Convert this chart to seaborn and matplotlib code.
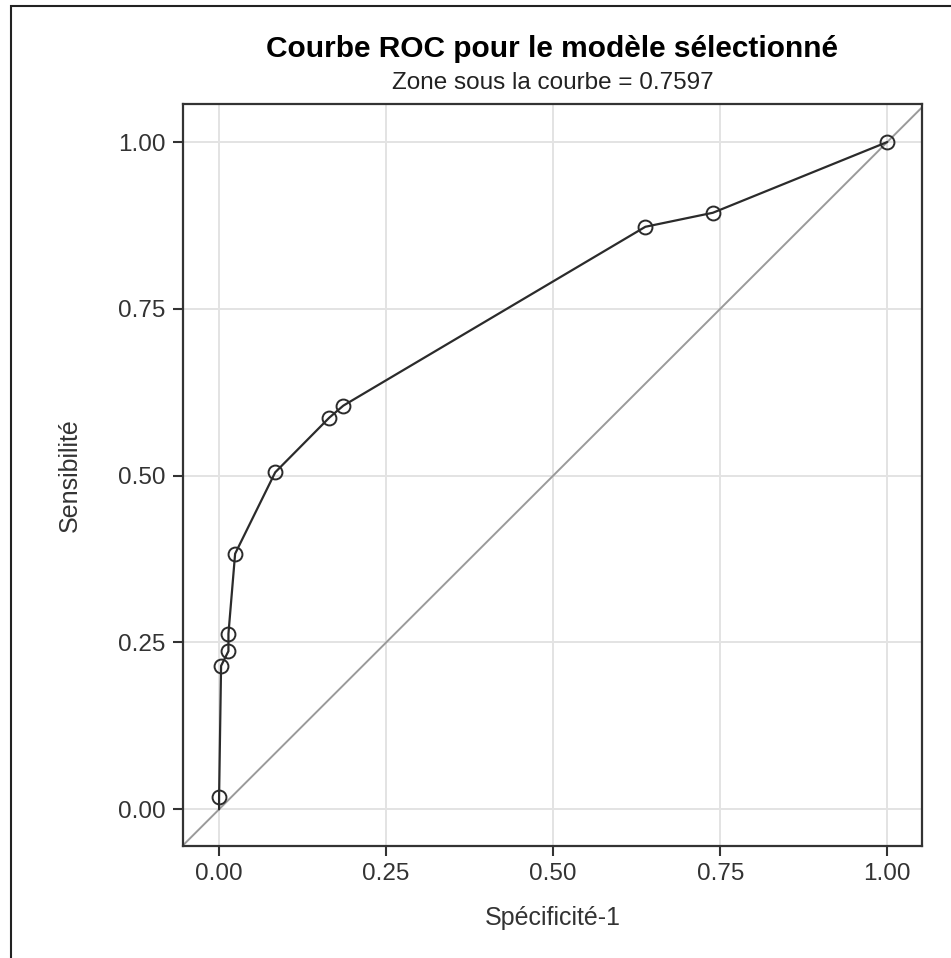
import pandas as pd
import matplotlib.pyplot as plt
import seaborn as sns
from matplotlib.patches import Rectangle

# Points de la courbe ROC
specificite_1 = [0.0, 0.0, 0.003, 0.014, 0.014, 0.024, 0.084, 0.165, 0.186, 0.638, 0.739, 1.0]
sensibilite = [0.0, 0.018, 0.215, 0.237, 0.263, 0.383, 0.505, 0.587, 0.605, 0.873, 0.894, 1.0]
graduations = [0.0, 0.25, 0.50, 0.75, 1.00]
etiquettes = ["0.00", "0.25", "0.50", "0.75", "1.00"]
auc = 0.7597

sns.set_theme(style="whitegrid")
plt.rcParams['font.family'] = ['Liberation Sans', 'DejaVu Sans']

df = pd.DataFrame({'x': specificite_1, 'y': sensibilite})

fig = plt.figure(figsize=(9.51, 9.58), dpi=100)
ax = fig.add_axes([183 / 951, 1 - 846 / 958, (922 - 183) / 951, (846 - 104) / 958])

# cadre autour de la figure (coupé à droite et en bas)
fig.patches.append(Rectangle((11 / 951, -0.1), 1.2, 1 - 6 / 958 + 0.1, transform=fig.transFigure,
                             fill=False, edgecolor='#222222', linewidth=1.5, zorder=0))

ax.axline((0, 0), slope=1, color='#9a9a9a', linewidth=1.4, zorder=1)
# pas de marqueur sur le point de départ (0, 0)
sns.lineplot(data=df, x='x', y='y', ax=ax, color='#2b2b2b', linewidth=1.6, sort=False,
             estimator=None, marker='o', markersize=10, markerfacecolor='none',
             markeredgecolor='#2b2b2b', markeredgewidth=1.4, zorder=3,
             markevery=list(range(1, len(df))))

ax.set_xlim(-0.054, 1.052)
ax.set_ylim(-0.055, 1.057)
ax.set_xticks(graduations)
ax.set_xticklabels(etiquettes)
ax.set_yticks(graduations)
ax.set_yticklabels(etiquettes)
ax.grid(True, color='#e3e3e3', linewidth=1.4)
for s in ax.spines.values():
    s.set_color('#333333')
    s.set_linewidth(1.6)
ax.tick_params(axis='both', which='major', length=7.5, width=1.5, color='#333333',
               labelsize=17.5, labelcolor='#333333', pad=5, bottom=True, left=True)

ax.set_xlabel('Spécificité-1', fontsize=18, color='#333333', labelpad=15)
ax.set_ylabel('Sensibilité', fontsize=18, color='#333333', labelpad=26)

xc = 0.5 * (183 + 922) / 951
fig.text(xc, 1 - 57 / 958, 'Courbe ROC pour le modèle sélectionné',
         ha='center', va='baseline', fontsize=21.5, fontweight='bold', color='black')
fig.text(xc, 1 - 89 / 958, f'Zone sous la courbe = {auc}',
         ha='center', va='baseline', fontsize=17.5, color='#222222')

plt.savefig('out.png', dpi=100)
plt.close()
